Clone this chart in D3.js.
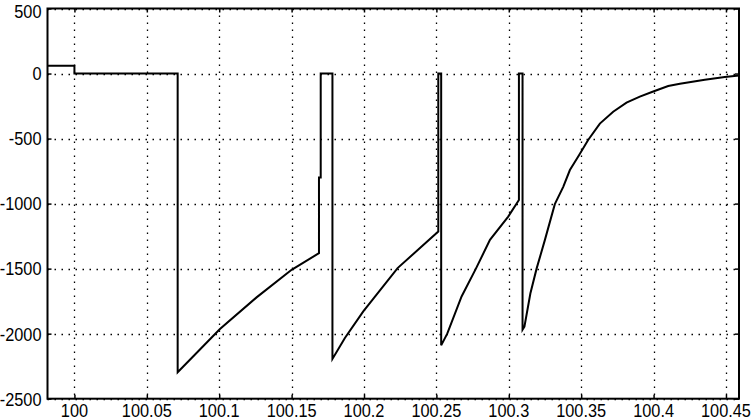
<!DOCTYPE html>
<html>
<head>
<meta charset="utf-8">
<script src="https://d3js.org/d3.v7.min.js"></script>
<style>
  body { margin: 0; background: #fff; }
  .tick_label { font-family: "Liberation Sans", Arial, sans-serif; font-size: 19px; fill: #000; }
</style>
</head>
<body>
<div id="chart"></div>
<script>
// time values
var t_vals = [99.9814, 100.0, 100.0, 100.0713, 100.0713, 100.0855, 100.1005, 100.1258, 100.15, 100.1689,
  100.1689, 100.1701, 100.1701, 100.1782, 100.1782, 100.1868, 100.1995, 100.2232, 100.2513,
  100.2513, 100.2533, 100.2533, 100.2575, 100.2674, 100.2773, 100.287, 100.2996, 100.307,
  100.307, 100.3095, 100.3095, 100.3108, 100.3149, 100.3192, 100.3249, 100.3318, 100.3376, 100.3422,
  100.3486, 100.3548, 100.3629, 100.3721, 100.3813, 100.3905, 100.3993, 100.4101, 100.4182,
  100.4354, 100.4492, 100.459]
var y_vals = [60, 60, 0, 0, -2297, -2135, -1964, -1721, -1509, -1381,
  -800, -800, 0, 0, -2194, -2033, -1829, -1496, -1215,
  0, 0, -2090, -2000, -1714, -1500, -1279, -1100, -972,
  0, 0, -1970, -1946, -1691, -1500, -1281, -1004, -871, -742,
  -627, -511, -385, -294, -224, -178, -140, -96, -78,
  -47, -27, -15]

var x_ticks = [100, 100.05, 100.1, 100.15, 100.2, 100.25, 100.3, 100.35, 100.4, 100.45]
var x_tick_labels = ["100", "100.05", "100.1", "100.15", "100.2", "100.25", "100.3", "100.35", "100.4", "100.45"]
var y_ticks = [500, 0, -500, -1000, -1500, -2000, -2500]
var x_domain = [99.9814, 100.459]
var y_domain = [-2500, 500]

function draw_chart(){
  var width = 752, height = 420
  var left = 47.5, right = 739, top = 8.5, bottom = 398.7
  var squeeze = 0.86   // the labels in the picture are narrow

  var svg = d3.select("#chart").append("svg")
      .attr("width", width)
      .attr("height", height)

  var x = d3.scaleLinear().domain(x_domain).range([left, right])
  var y = d3.scaleLinear().domain(y_domain).range([bottom, top])

  // dotted grid
  var grid = svg.append("g").attr("class", "grid")
  grid.selectAll(".vgrid").data(x_ticks).enter().append("line")
    .attr("x1", function(d){ return Math.round(x(d)) + 0.5 })
    .attr("x2", function(d){ return Math.round(x(d)) + 0.5 })
    .attr("y1", top).attr("y2", bottom)
    .attr("stroke", "#000").attr("stroke-width", 1.3)
    .attr("stroke-dasharray", "1.5,5.5")
  grid.selectAll(".hgrid").data(y_ticks).enter().append("line")
    .attr("y1", function(d){ return Math.round(y(d)) + 0.5 })
    .attr("y2", function(d){ return Math.round(y(d)) + 0.5 })
    .attr("x1", left).attr("x2", right)
    .attr("stroke", "#000").attr("stroke-width", 1.3)
    .attr("stroke-dasharray", "1.5,5.5")

  // inward ticks (matlab style)
  var xb = d3.axisBottom(x).tickValues(x_ticks).tickSize(-4).tickFormat("")
  var xt = d3.axisTop(x).tickValues(x_ticks).tickSize(-4).tickFormat("")
  var yl = d3.axisLeft(y).tickValues(y_ticks).tickSize(-4).tickFormat("")
  var yr = d3.axisRight(y).tickValues(y_ticks).tickSize(-4).tickFormat("")
  svg.append("g").attr("transform", "translate(0," + bottom + ")").call(xb)
  svg.append("g").attr("transform", "translate(0," + top + ")").call(xt)
  svg.append("g").attr("transform", "translate(" + left + ",0)").call(yl)
  svg.append("g").attr("transform", "translate(" + right + ",0)").call(yr)
  svg.selectAll(".domain").remove()
  svg.selectAll(".tick line").attr("stroke", "#000").attr("stroke-width", 1.5)

  // labels
  svg.selectAll(".xlab").data(x_ticks).enter().append("text")
    .attr("class", "tick_label")
    .attr("transform", function(d){ return "translate(" + x(d) + ",417) scale(" + squeeze + ",1)" })
    .attr("text-anchor", "middle")
    .text(function(d, i){ return x_tick_labels[i] })
  svg.selectAll(".ylab").data(y_ticks).enter().append("text")
    .attr("class", "tick_label")
    // keep the top label inside the window
    .attr("transform", function(d){ return "translate(41.5," + Math.max(y(d), 11) + ") scale(" + squeeze + ",1)" })
    .attr("dy", "0.36em")
    .attr("text-anchor", "end")
    .text(function(d){ return d })

  // the signal
  var pts = t_vals.map(function(t, i){ return [t, y_vals[i]] })
  var line = d3.line()
    .x(function(d){ return x(d[0]) })
    .y(function(d){ return y(d[1]) })
  svg.append("path")
    .attr("d", line(pts))
    .attr("fill", "none")
    .attr("stroke", "#000")
    .attr("stroke-width", 2)
    .attr("stroke-linejoin", "miter")

  // axes box
  svg.append("rect")
    .attr("x", left).attr("y", top)
    .attr("width", right - left).attr("height", bottom - top)
    .attr("fill", "none")
    .attr("stroke", "#000")
    .attr("stroke-width", 2)
}

draw_chart()
</script>
</body>
</html>
